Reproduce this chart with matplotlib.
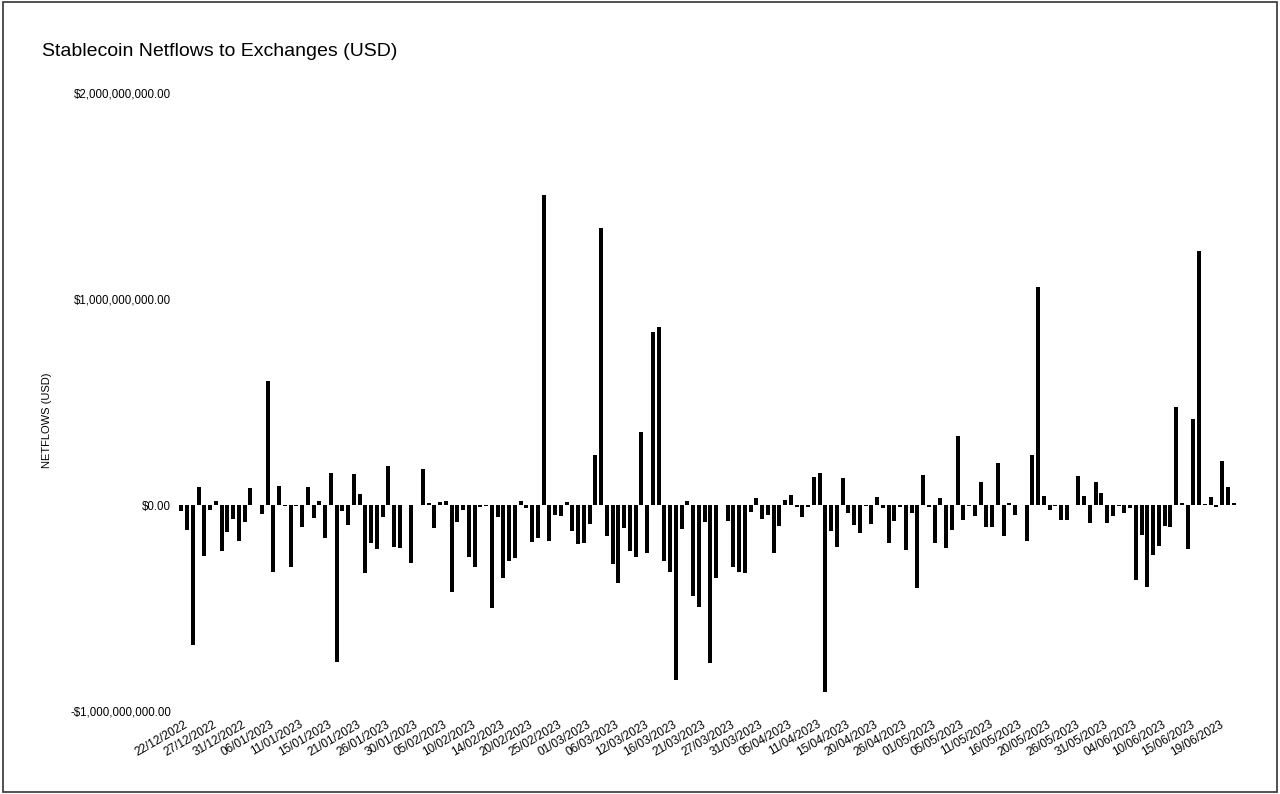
import matplotlib
matplotlib.use('Agg')
import matplotlib.pyplot as plt
import matplotlib.transforms as mtrans
from matplotlib.patches import Rectangle
from matplotlib.ticker import FuncFormatter

plt.rcParams['font.family'] = ['Liberation Sans', 'DejaVu Sans']

# netflows per bar, in millions of USD
netflowsM = [
    -30, -120, -678, 86, -248, -24, 21, -223, -129, -70,
    -173, -81, 84, 0, -45, 600, -324, 92, -3, -299,
    -3, -105, 89, -61, 21, -159, 154, -763, -28, -97,
    149, 52, -328, -183, -215, -57, 189, -202, -207, -2,
    -280, -2, 173, 11, -113, 16, 19, -424, -81, -24,
    -251, -299, -8, -5, -502, -60, -353, -272, -259, 21,
    -13, -181, -162, 1505, -173, -49, -53, 13, -125, -191,
    -183, -94, 243, 1346, -149, -288, -377, -110, -223, -251,
    353, -235, 841, 866, -272, -327, -850, -117, 19, -440,
    -494, -81, -768, -356, 0, -78, -299, -324, -332, -32,
    32, -70, -49, -235, -102, 24, 49, -11, -60, -8,
    138, 157, -907, -125, -202, 129, -37, -97, -138, -5,
    -94, 40, -13, -183, -76, -8, -218, -40, -401, 146,
    -11, -186, 32, -210, -121, 337, -73, -3, -53, 110,
    -108, -105, 205, -150, 8, -49, 0, -173, 243, 1060,
    44, -24, -5, -73, -73, 0, 142, 44, -89, 110,
    57, -89, -53, -3, -40, -16, -364, -146, -398, -243,
    -197, -100, -105, 477, 8, -215, 416, 1232, 3, 40,
    -8, 215, 86, 11,
]

dateLabels = [
    '22/12/2022', '27/12/2022', '31/12/2022', '06/01/2023', '11/01/2023',
    '15/01/2023', '21/01/2023', '26/01/2023', '30/01/2023', '05/02/2023',
    '10/02/2023', '14/02/2023', '20/02/2023', '25/02/2023', '01/03/2023',
    '06/03/2023', '12/03/2023', '16/03/2023', '21/03/2023', '27/03/2023',
    '31/03/2023', '05/04/2023', '11/04/2023', '15/04/2023', '20/04/2023',
    '26/04/2023', '01/05/2023', '05/05/2023', '11/05/2023', '16/05/2023',
    '20/05/2023', '26/05/2023', '31/05/2023', '04/06/2023', '10/06/2023',
    '15/06/2023', '19/06/2023',
]

yTicks = [-1e9, 0, 1e9, 2e9]

netflows = [v * 1e6 for v in netflowsM]
xs = list(range(len(netflows)))

fig = plt.figure(figsize=(12.8, 7.94), dpi=100)
fig.patch.set_facecolor('white')

# outer frame of the screenshot
fig.patches.append(Rectangle((0.002, 0.003), 0.996, 0.994, transform=fig.transFigure,
                             fill=False, edgecolor='#333333', linewidth=1.2))

ax = fig.add_axes([0.1394, 0.1045, 0.8266, 0.7783])
ax.bar(xs, netflows, width=0.7, color='#000000')

ax.set_xlim(-0.5, len(netflows) - 0.5)
ax.set_ylim(-1e9, 2e9)

for s in ax.spines.values():
    s.set_visible(False)

def usd(v, pos):
    if v < 0:
        return '-${:,.2f}'.format(-v)
    return '${:,.2f}'.format(v)

ax.set_yticks(yTicks)
ax.yaxis.set_major_formatter(FuncFormatter(usd))
ax.tick_params(axis='y', length=0, pad=5.3, labelsize=8.3)

tickPos = [i * 5 for i in range(len(dateLabels))]
ax.set_xticks(tickPos)
ax.set_xticklabels(dateLabels, rotation=30, ha='right', va='center',
                   rotation_mode='anchor', fontsize=8.5)
ax.tick_params(axis='x', length=0, pad=9)
offset = mtrans.ScaledTranslation(6 / 100, 0, fig.dpi_scale_trans)
for lab in ax.get_xticklabels():
    lab.set_transform(lab.get_transform() + offset)

fig.text(42 / 1280, 1 - 51 / 794, 'Stablecoin Netflows to Exchanges (USD)',
         fontsize=14, ha='left', va='center')
fig.text(47 / 1280, 1 - 420 / 794, 'NETFLOWS (USD)', fontsize=8,
         rotation=90, ha='center', va='center')

fig.savefig('out.png', dpi=100)
